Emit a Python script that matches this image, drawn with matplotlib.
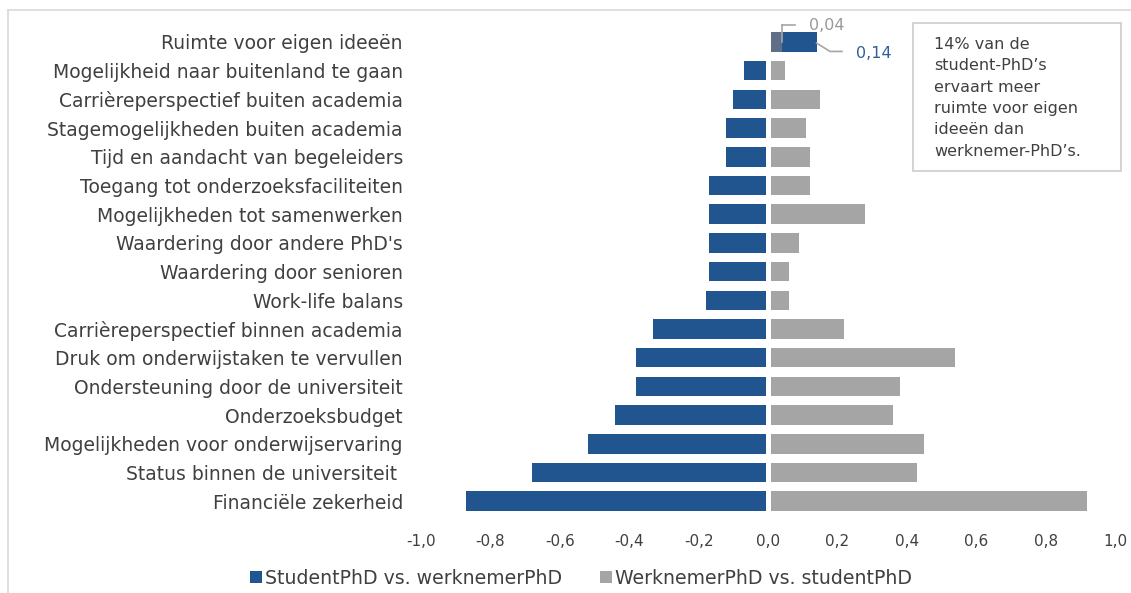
import matplotlib
matplotlib.use("Agg")
import matplotlib.pyplot as plt
import numpy as np
from matplotlib.lines import Line2D
from matplotlib.patches import Patch

plt.rcParams['font.family'] = ['DejaVu Sans']

categories = [
    "Ruimte voor eigen ideeën",
    "Mogelijkheid naar buitenland te gaan",
    "Carrièreperspectief buiten academia",
    "Stagemogelijkheden buiten academia",
    "Tijd en aandacht van begeleiders",
    "Toegang tot onderzoeksfaciliteiten",
    "Mogelijkheden tot samenwerken",
    "Waardering door andere PhD's",
    "Waardering door senioren",
    "Work-life balans",
    "Carrièreperspectief binnen academia",
    "Druk om onderwijstaken te vervullen",
    "Ondersteuning door de universiteit",
    "Onderzoeksbudget",
    "Mogelijkheden voor onderwijservaring",
    "Status binnen de universiteit ",
    "Financiële zekerheid",
]
student_vs_werknemer = [0.14, -0.07, -0.10, -0.12, -0.12, -0.17, -0.17, -0.17, -0.17,
                        -0.18, -0.33, -0.38, -0.38, -0.44, -0.52, -0.68, -0.87]
werknemer_vs_student = [0.04, 0.05, 0.15, 0.11, 0.12, 0.12, 0.28, 0.09, 0.06,
                        0.06, 0.22, 0.54, 0.38, 0.36, 0.45, 0.43, 0.92]
series_names = ["StudentPhD vs. werknemerPhD", "WerknemerPhD vs. studentPhD"]
x_ticks = [-1.0, -0.8, -0.6, -0.4, -0.2, 0.0, 0.2, 0.4, 0.6, 0.8, 1.0]
x_tick_labels = ["-1,0", "-0,8", "-0,6", "-0,4", "-0,2", "0,0", "0,2", "0,4", "0,6", "0,8", "1,0"]
note_text = "14% van de\nstudent-PhD’s\nervaart meer\nruimte voor eigen\nideeën dan\nwerknemer-PhD’s."

BLUE = "#215590"
GREY = "#a5a5a5"
SLATE = "#5f6f86"
TEXT = "#404040"

W, H = 1131, 593
fig = plt.figure(figsize=(W / 100, H / 100), dpi=100)
ax = fig.add_axes([421 / W, 1 - 515.6 / H, (1115 - 421) / W, (515.6 - 27.6) / H])

y = np.arange(len(categories))
bar_h = 0.68
ax.barh(y, student_vs_werknemer, height=bar_h, color=BLUE, zorder=2)
grey_colors = [SLATE if b > 0 else GREY for b in student_vs_werknemer]
ax.barh(y, werknemer_vs_student, height=bar_h, color=grey_colors, zorder=2.5)
ax.axvline(0, color="white", lw=3.6, zorder=3)

ax.set_xlim(-1.0, 1.0)
ax.set_ylim(len(categories) - 0.5, -0.5)
ax.set_yticks(y)
ax.set_yticklabels(categories, fontsize=13.5, color=TEXT)
ax.set_xticks(x_ticks)
ax.set_xticklabels(x_tick_labels, fontsize=11, color=TEXT)
ax.tick_params(axis="y", length=0, pad=13)
ax.tick_params(axis="x", length=0, pad=13)
for s in ax.spines.values():
    s.set_visible(False)

# data labels with leader lines for the first row
b0 = student_vs_werknemer[0]
g0 = werknemer_vs_student[0]
ax.annotate(f"{g0:.2f}".replace(".", ","), xy=(g0, 0), xycoords="data",
            xytext=(809, H - 25), textcoords="figure pixels",
            fontsize=11.5, color="#999999", va="center", ha="left", zorder=5)
ax.plot([g0, g0], [0, -0.59], color=GREY, lw=1.2, zorder=4, clip_on=False)
xg_end = ax.transData.inverted().transform((795, 0))[0]
ax.plot([g0, xg_end], [-0.59, -0.59], color=GREY, lw=1.2, zorder=4, clip_on=False)

ax.annotate(f"{b0:.2f}".replace(".", ","), xy=(b0, 0), xycoords="data",
            xytext=(856, H - 53), textcoords="figure pixels",
            fontsize=11.5, color="#2f5f9a", va="center", ha="left", zorder=5)
xb1 = ax.transData.inverted().transform((830, 0))[0]
xb2 = ax.transData.inverted().transform((842, 0))[0]
ax.plot([b0, xb1, xb2], [0.04, 0.33, 0.33], color=GREY, lw=1.2, zorder=4, clip_on=False)

# note box
box = plt.Rectangle((912.5 / W, 1 - 170.7 / H), (1120.7 - 912.5) / W, (170.7 - 22.7) / H,
                    transform=fig.transFigure, facecolor="white", edgecolor="#d0d0d0",
                    lw=1.3, zorder=1)
fig.add_artist(box)
fig.text(934 / W, 1 - 37 / H, note_text, fontsize=11.5, color=TEXT, va="top", ha="left",
         linespacing=1.53)

# chart outer border
fig.add_artist(Line2D([8 / W, 8 / W], [0, 1 - 10 / H], transform=fig.transFigure,
                      color="#d9d9d9", lw=1.2))
fig.add_artist(Line2D([8 / W, 1], [1 - 10 / H, 1 - 10 / H], transform=fig.transFigure,
                      color="#d9d9d9", lw=1.2))

handles = [Patch(facecolor=BLUE), Patch(facecolor=GREY)]
leg = fig.legend(handles, series_names, loc="center", bbox_to_anchor=(581 / W, 1 - 578 / H),
                 ncol=2, frameon=False, fontsize=13.6, handlelength=0.65, handleheight=0.65,
                 handletextpad=0.15, columnspacing=2.0, borderpad=0)
for t in leg.get_texts():
    t.set_color(TEXT)

fig.savefig("out.png", dpi=100)
